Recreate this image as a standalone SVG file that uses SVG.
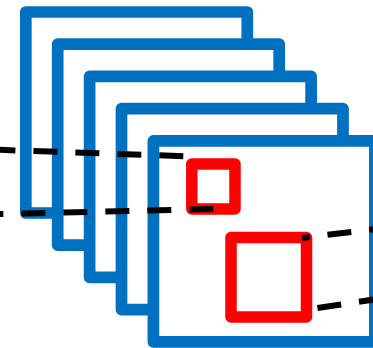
<svg xmlns="http://www.w3.org/2000/svg" width="373" height="348" viewBox="0 0 373 348">
  <style>
    .layer { fill: #ffffff; stroke: #0070c0; stroke-width: 11.7; stroke-linejoin: round; }
    .field { fill: none; stroke: #ff0000; stroke-width: 11.5; stroke-linejoin: round; }
    .proj { fill: none; stroke: #000000; stroke-width: 6; stroke-dasharray: 24 18; }
  </style>
  <rect width="373" height="348" fill="#ffffff"/>

  <!-- stacked feature maps, back to front -->
  <g id="layer1"><rect class="layer" x="25.8" y="12" width="221.5" height="201"/></g>
  <g id="layer2"><rect class="layer" x="57.7" y="44.2" width="221.5" height="201"/></g>
  <g id="layer3"><rect class="layer" x="89.6" y="76.4" width="221.5" height="201"/></g>
  <g id="layer4"><rect class="layer" x="121.5" y="108.6" width="221.5" height="201"/></g>
  <g id="layer5"><rect class="layer" x="153.4" y="140.8" width="221.5" height="201"/></g>

  <!-- receptive fields -->
  <g id="field-small"><rect class="field" x="191.8" y="164" width="43.2" height="45"/></g>
  <g id="field-large"><rect class="field" x="231" y="237.5" width="75.5" height="79.5"/></g>

  <!-- projection lines -->
  <g id="connectors">
    <line class="proj" x1="183.3" y1="156.2" x2="-10" y2="149.5"/>
    <line class="proj" x1="213.3" y1="209" x2="-25" y2="214.7"/>
    <line class="proj" x1="393" y1="227" x2="302" y2="237.9"/>
    <line class="proj" x1="382.7" y1="298.2" x2="316.7" y2="308.1"/>
  </g>
</svg>
